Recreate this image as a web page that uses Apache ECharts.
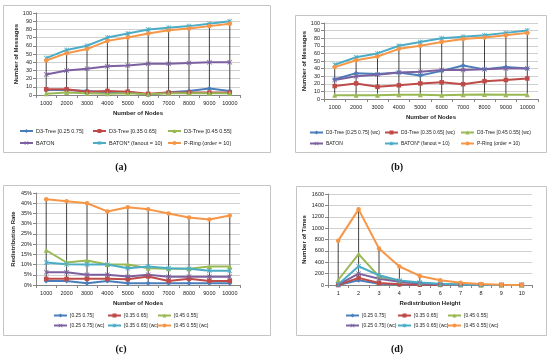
<!DOCTYPE html>
<html><head><meta charset="utf-8">
<script src="https://cdn.jsdelivr.net/npm/echarts@6/dist/echarts.min.js"></script>
<style>html,body{margin:0;padding:0;background:#fff}#c{width:550px;height:360px}</style>
</head><body><div id="c"></div>
<script>
// ---- data ----
const nodes = ['1000','2000','3000','4000','5000','6000','7000','8000','9000','10000'];
const heights = ['1','2','3','4','5','6','7','8','9','10'];

// (a) Number of messages
const aD3_25 = [6, 6, 5, 3, 4, 0, 3.5, 5, 8, 5];
const aD3_35 = [7, 7, 4, 5, 4, 1.5, 3, 3, 3, 3];
const aD3_45 = [1.5, 3, 2, 1.5, 2, 1, 2, 2, 2, 2];
const baton = [25, 30, 32, 35, 36, 38, 38, 39, 40, 40];
const batonStar = [45, 55, 60, 70, 75, 80, 82, 84, 87, 90];
const pring = [42, 51, 56, 66, 70, 75, 79, 81, 84, 87];
// (b) worst case
const bD3_25wc = [26, 34, 33, 35, 31, 37, 44, 39, 42, 40];
const bD3_35wc = [17, 20.5, 16, 18, 20.5, 22, 19.5, 23.5, 25, 27];
const bD3_45wc = [5, 5, 5, 5.5, 5.5, 5, 5.5, 6, 5.5, 5.5];
// (c) redistribution rate (%)
const c25 = [2, 2, 0.8, 2, 0.8, 0.8, 0.8, 0.8, 0.8, 0.8];
const c35 = [3, 3, 3, 3, 2.8, 4.2, 2, 3, 2, 2];
const c45 = [17, 11, 12, 10, 10, 8.2, 8, 8, 9, 9];
const c25wc = [6.2, 6.2, 5, 5, 4.1, 5, 4, 4, 4, 4];
const c35wc = [11, 10.2, 10, 10, 8.2, 9, 8.2, 8, 7, 7];
const c45wc = [42, 41, 40, 36, 38, 37, 35, 33, 32, 34];
// (d) number of times per redistribution height
const d25 = [0, 85, 22, 7, 3, 1, 0, 0, 0, 0];
const d35 = [0, 125, 35, 12, 5, 2, 1, 0, 0, 0];
const d45 = [88, 543, 150, 70, 30, 12, 5, 2, 0, 0];
const d25wc = [5, 200, 110, 55, 28, 14, 6, 3, 1, 0];
const d35wc = [10, 330, 170, 80, 45, 22, 10, 5, 2, 0];
const d45wc = [780, 1330, 643, 325, 160, 83, 41, 18, 6, 0];

// ---- styling ----
const FONT = 'Liberation Sans';
const COL = ['#4A7EBB', '#BE4B48', '#98B954', '#7D60A0', '#4BACC6', '#F79646'];
const X_SYM = 'path://M0,1L1,0L5,4L9,0L10,1L6,5L10,9L9,10L5,6L1,10L0,9L4,5Z';
const STAR_SYM = 'path://M4.3,0H5.7V10H4.3Z M0,1L1,0L10,9L9,10Z M9,0L10,1L1,10L0,9Z';
const SYM = ['diamond', 'rect', 'triangle', X_SYM, STAR_SYM, 'circle'];
const SYMSIZE = [5, 4.5, 5, 5, 5, 4.5];

const panels = [
  { cats: nodes, grid: {left: 36, top: 13, width: 204, height: 82}, ymax: 100, yint: 10, suffix: '',
    xName: 'Number of Nodes', yName: 'Number of Messages', yGap: 17,
    names: ['D3-Tree [0.25 0.75]', 'D3-Tree [0.35 0.65]', 'D3-Tree [0.45 0.55]', 'BATON', 'BATON* (fanout = 10)', 'P-Ring (order = 10)'],
    vals: [aD3_25, aD3_35, aD3_45, baton, batonStar, pring],
    legX: [19, 92, 167], legY: [131, 143], legFont: 5.5 },
  { cats: nodes, grid: {left: 324, top: 23, width: 214, height: 76}, ymax: 100, yint: 10, suffix: '',
    xName: 'Number of Nodes', yName: 'Number of Messages', yGap: 17,
    names: ['D3-Tree [0.25 0.75] (wc)', 'D3-Tree [0.35 0.65] (wc)', 'D3-Tree [0.45 0.55] (wc)', 'BATON', 'BATON* (fanout = 10)', 'P-Ring (order = 10)'],
    vals: [bD3_25wc, bD3_35wc, bD3_45wc, baton, batonStar, pring],
    legX: [309, 384, 460], legY: [133, 144], legFont: 5 },
  { cats: nodes, grid: {left: 36, top: 193, width: 204, height: 92}, ymax: 45, yint: 5, suffix: '%',
    xName: 'Number of Nodes', yName: 'Redistribution Rate', yGap: 20,
    names: ['[0.25 0.75]', '[0.35 0.65]', '[0.45 0.55]', '[0.25 0.75] (wc)', '[0.35 0.65] (wc)', '[0.45 0.55] (wc)'],
    vals: [c25, c35, c45, c25wc, c35wc, c45wc],
    legX: [53, 107, 157], legY: [316, 326], legFont: 5 },
  { cats: heights, grid: {left: 328, top: 194, width: 204, height: 91}, ymax: 1600, yint: 200, suffix: '',
    xName: 'Redistribution Height', yName: 'Number of Times', yGap: 21,
    names: ['[0.25 0.75]', '[0.35 0.65]', '[0.45 0.55]', '[0.25 0.75] (wc)', '[0.35 0.65] (wc)', '[0.45 0.55] (wc)'],
    vals: [d25, d35, d45, d25wc, d35wc, d45wc],
    legX: [345, 397, 447], legY: [316, 326], legFont: 5 }
];

const grids = [], xAxes = [], yAxes = [], series = [], legends = [];
panels.forEach((p, k) => {
  grids.push(Object.assign({containLabel: false}, p.grid));
  xAxes.push({
    type: 'category', gridIndex: k, data: p.cats, boundaryGap: true,
    name: p.xName, nameLocation: 'middle', nameGap: 15,
    nameTextStyle: {fontFamily: FONT, fontSize: 6, fontWeight: 'bold', color: '#222'},
    axisLine: {lineStyle: {color: '#868686', width: 1}},
    axisTick: {show: true, length: 3, lineStyle: {color: '#868686'}},
    axisLabel: {interval: 0, fontFamily: FONT, fontSize: 5.5, color: '#222', margin: 5},
    splitLine: {show: false}
  });
  yAxes.push({
    type: 'value', gridIndex: k, min: 0, max: p.ymax, interval: p.yint,
    name: p.yName, nameLocation: 'middle', nameGap: p.yGap, nameRotate: 90,
    nameTextStyle: {fontFamily: FONT, fontSize: 6, fontWeight: 'bold', color: '#222'},
    axisLine: {show: true, lineStyle: {color: '#868686', width: 1}},
    axisTick: {show: true, length: 3, lineStyle: {color: '#868686'}},
    axisLabel: {formatter: (v) => String(v) + p.suffix, fontFamily: FONT, fontSize: 5.5, color: '#222', margin: 4},
    splitLine: {show: true, lineStyle: {color: '#d0d0d0', width: 1}}
  });
  // high-low lines computed from the series values
  const hl = p.cats.map((c, i) => {
    const col = p.vals.map(v => v[i]);
    return [i, Math.min.apply(null, col), Math.max.apply(null, col)];
  });
  series.push({
    type: 'custom', xAxisIndex: k, yAxisIndex: k, silent: true, z: 1,
    data: hl, encode: {x: 0, y: [1, 2]},
    renderItem: (params, api) => {
      const a = api.coord([api.value(0), api.value(1)]);
      const b = api.coord([api.value(0), api.value(2)]);
      return {type: 'line', shape: {x1: a[0], y1: a[1], x2: b[0], y2: b[1]},
              style: {stroke: '#111', lineWidth: 0.8}};
    }
  });
  p.names.forEach((n, j) => {
    series.push({
      type: 'line', name: n, xAxisIndex: k, yAxisIndex: k, data: p.vals[j], z: 3,
      color: COL[j], symbol: SYM[j], symbolSize: SYMSIZE[j], showSymbol: true,
      lineStyle: {width: 2, color: COL[j]}, itemStyle: {color: COL[j]},
      animation: false
    });
    legends.push({
      data: [n], left: p.legX[j % 3], top: p.legY[Math.floor(j / 3)] - 3,
      orient: 'horizontal', padding: 0, itemGap: 0, itemWidth: 13, itemHeight: 5,
      textStyle: {fontFamily: FONT, fontSize: p.legFont, color: '#222', padding: [0, 0, 0, -2]},
      selectedMode: false
    });
  });
});

const frames = [[3, 5, 267, 147], [295, 15, 251, 137], [3, 185, 267, 150], [296, 186, 250, 149]];
const captions = [['(a)', 121, 167], ['(b)', 397, 167], ['(c)', 121, 349], ['(d)', 397, 349]];
const graphic = frames.map(f => ({type: 'rect', shape: {x: f[0] + 0.5, y: f[1] + 0.5, width: f[2], height: f[3]},
  style: {fill: 'none', stroke: '#c4c4c4', lineWidth: 1}, z: 0}))
  .concat(captions.map(c => ({type: 'text', x: c[1], y: c[2],
    style: {text: c[0], fontFamily: 'Liberation Serif', fontSize: 10, fontWeight: 'bold', fill: '#111',
            textAlign: 'center', textVerticalAlign: 'middle'}})));

const chart = echarts.init(document.getElementById('c'), null, {renderer: 'canvas'});
chart.setOption({
  animation: false, backgroundColor: '#fff',
  grid: grids, xAxis: xAxes, yAxis: yAxes, series: series, legend: legends, graphic: graphic
});
</script></body></html>
